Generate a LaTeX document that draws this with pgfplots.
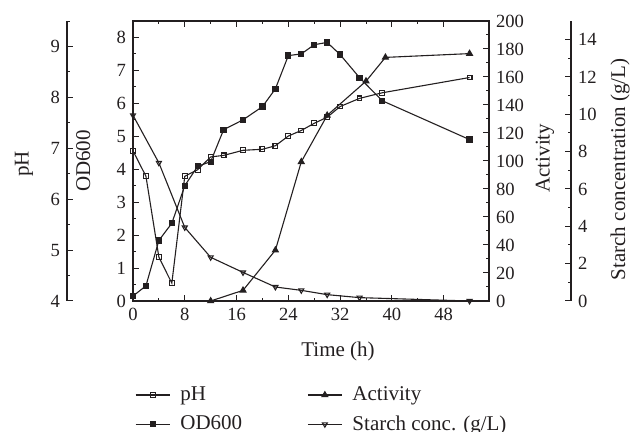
\documentclass[border=0pt]{standalone}
\usepackage{fontspec}
\setmainfont{Liberation Serif}
\usepackage{pgfplots}
\pgfplotsset{compat=1.18}
\definecolor{ink}{RGB}{35,31,32}
\pgfplotsset{
  base/.style={
    scale only axis, width=178pt, height=140pt,
    xmin=0, xmax=55,
    /pgf/number format/assume math mode=true,
    tick label style={font=\fontsize{9.3}{10}\selectfont, color=ink},
    label style={font=\fontsize{10.5}{12}\selectfont, color=ink},
    axis line style={ink, line width=0.6pt},
    major tick length=3pt, minor tick length=1.7pt,
    every tick/.style={ink, line width=0.5pt},
    tick align=inside,
    clip=false,
  },
}
\begin{document}
\begin{tikzpicture}
% main axis: OD600
\begin{axis}[base,
  ymin=0, ymax=8.5, ytick={0,...,8}, minor ytick={0.5,1.5,...,7.5},
  ytick pos=left,
  xtick={0,8,...,48}, minor xtick={4,12,...,44},
  xlabel={Time (h)},
  xlabel style={at={(axis description cs:0.576,-0.179)}, anchor=center},
  ylabel={OD600},
  ylabel style={at={(axis description cs:-0.14,0.5)}, anchor=center},
]
\addplot[ink, line width=0.55pt, mark=square*, mark size=1.3pt, mark options={fill=ink}] coordinates {
(0,0.15) (2,0.46) (4,1.84) (6,2.36) (8,3.5) (10,4.09) (12,4.23) (14,5.2) (17,5.5) (20,5.9) (22,6.44) (24,7.45) (26,7.5) (28,7.78) (30,7.85) (32,7.48) (35,6.78) (38.5,6.08) (52,4.9)
};
\end{axis}
% Activity axis
\begin{axis}[base, axis x line=none, axis y line*=right,
  ymin=0, ymax=200, ytick={0,20,...,200}, minor ytick={10,30,...,190},
  ylabel={Activity},
  ylabel style={at={(axis description cs:1.157,0.51)}, anchor=center},
]
\addplot[ink, line width=0.55pt, mark=triangle*, mark size=1.65pt, mark options={fill=ink}] coordinates {
(12,0) (17,7.6) (22,36.3) (26,99.4) (30,132.6) (36,157) (39,174) (52,176.7)
};
\end{axis}
% pH axis
\begin{axis}[base, axis x line=none, axis y line*=left, axis y line shift=33pt,
  ymin=4, ymax=9.5, ytick={4,...,9}, minor ytick={4.5,5.5,...,9.5},
  ylabel={pH},
  ylabel style={at={(axis description cs:-0.306,0.49)}, anchor=center},
]
\addplot[ink, line width=0.55pt, mark=square, mark size=1.2pt, mark options={fill=white}] coordinates {
(0,6.95) (2,6.45) (4,4.86) (6,4.35) (8,6.45) (10,6.58) (12,6.83) (14,6.86) (17,6.96) (20,6.98) (22,7.05) (24,7.24) (26,7.35) (28,7.49) (30,7.61) (32,7.82) (35,7.98) (38.5,8.09) (52,8.39)
};
\end{axis}
% Starch axis
\begin{axis}[base, axis x line=none, axis y line*=right, axis y line shift=41pt,
  ymin=0, ymax=15, ytick={0,2,...,14}, minor ytick={1,3,...,13},
  ylabel={Starch concentration (g/L)},
  ylabel style={at={(axis description cs:1.368,0.47)}, anchor=center},
  legend columns=2, legend cell align=left,
  legend style={at={(axis description cs:0.005,-0.29)}, anchor=north west,
    draw=none, fill=none, inner sep=0pt,
    font=\fontsize{10.5}{12}\selectfont, text=ink,
    /tikz/every odd column/.append style={column sep=3pt},
    /tikz/every even column/.append style={column sep=30.5pt},
    row sep=2pt},
]
\addplot[ink, line width=0.55pt, mark=triangle, mark size=1.45pt, mark options={fill=white, rotate=180}, forget plot] coordinates {
(0,9.95) (4,7.4) (8,3.94) (12,2.34) (17,1.53) (22,0.75) (26,0.57) (30,0.34) (35,0.18) (52,0.0)
};
\addlegendimage{ink, line width=0.55pt, mark=square, mark size=1.2pt, mark options={fill=white}}
\addlegendentry{pH}
\addlegendimage{ink, line width=0.55pt, mark=triangle*, mark size=1.65pt, mark options={fill=ink}}
\addlegendentry{Activity}
\addlegendimage{ink, line width=0.55pt, mark=square*, mark size=1.3pt, mark options={fill=ink}}
\addlegendentry{OD600}
\addlegendimage{ink, line width=0.55pt, mark=triangle, mark size=1.45pt, mark options={fill=white, rotate=180}}
\addlegendentry{Starch conc. (g/L)}
\end{axis}
\pgfresetboundingbox
\path[use as bounding box] (-66.5pt,-65.5pt) rectangle (250pt,150.5pt);
\end{tikzpicture}
\end{document}
